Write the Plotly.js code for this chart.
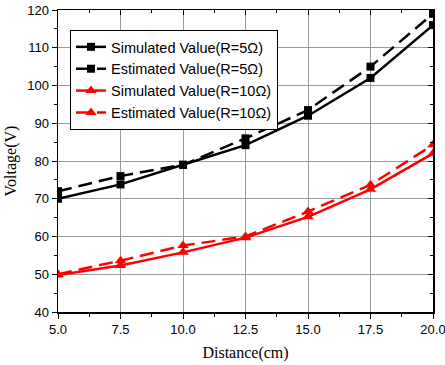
<!DOCTYPE html>
<html><head><meta charset="utf-8">
<script src="https://cdn.plot.ly/plotly-3.0.1.min.js"></script>
<style>html,body{margin:0;padding:0;background:#fff}</style>
</head><body><div id="chart" style="width:445px;height:365px"></div>
<script>
const distance = [5.0, 7.5, 10.0, 12.5, 15.0, 17.5, 20.0];
const simR5 = [70, 73.8, 79, 84.2, 92, 102, 116];
const estR5 = [72, 76, 79, 86, 93.5, 105, 119];
const simR10 = [49.8, 52.3, 55.8, 59.7, 65.2, 72.5, 82];
const estR10 = [50, 53.6, 57.6, 60, 66.6, 73.7, 84.3];
const names = ['Simulated Value(R=5Ω)', 'Estimated Value(R=5Ω)', 'Simulated Value(R=10Ω)', 'Estimated Value(R=10Ω)'];
const xTicks = [5.0, 7.5, 10.0, 12.5, 15.0, 17.5, 20.0];
const xTickText = ['5.0', '7.5', '10.0', '12.5', '15.0', '17.5', '20.0'];

function tr(y, name, color, dash, symbol, size) {
  return {x: distance, y: y, name: name, type: 'scatter', mode: 'lines+markers', line: {color: color, width: 2.5, dash: dash}, marker: {symbol: symbol, size: size, color: color}};
}
const data = [
  tr(simR5, names[0], '#000000', 'solid', 'square', 8),
  tr(estR5, names[1], '#000000', '14px,7px', 'square', 8),
  tr(simR10, names[2], '#ff0000', 'solid', 'triangle-up', 10),
  tr(estR10, names[3], '#ff0000', '14px,7px', 'triangle-up', 10),
  {x: [5, 20], y: [40, 40], xaxis: 'x2', yaxis: 'y2', mode: 'none', showlegend: false, hoverinfo: 'skip', type: 'scatter'}
];
const layout = {
  width: 445, height: 365,
  margin: {l: 58, r: 12, t: 10, b: 53},
  paper_bgcolor: '#fff', plot_bgcolor: '#fff',
  font: {family: 'Liberation Sans, Arial, sans-serif', color: '#000'},
  showlegend: true,
  legend: {x: 0.032, y: 0.934, xanchor: 'left', yanchor: 'top', bgcolor: '#fff', bordercolor: '#000', borderwidth: 1, font: {size: 14.5, family: 'Liberation Sans, Arial, sans-serif'}, tracegroupgap: 0, itemwidth: 30},
  xaxis: {range: [5, 20], tickvals: xTicks, ticktext: xTickText, ticks: 'outside', ticklen: 5, tickwidth: 1, tickcolor: '#000', ticklabeloverflow: 'allow',
    minor: {dtick: 1.25, tick0: 5, ticks: 'outside', ticklen: 3, tickcolor: '#000', showgrid: false},
    showline: true, linecolor: '#000', linewidth: 1.5, showgrid: true, gridcolor: '#999', gridwidth: 1, zeroline: false,
    tickfont: {size: 13}, title: {text: 'Distance(cm)', font: {family: 'Liberation Serif, Times New Roman, serif', size: 16}, standoff: 10}},
  yaxis: {range: [40, 120], dtick: 10, ticks: 'outside', ticklen: 5, tickwidth: 1, tickcolor: '#000',
    minor: {dtick: 5, ticks: 'outside', ticklen: 3, tickcolor: '#000', showgrid: false},
    showline: true, linecolor: '#000', linewidth: 1.5, showgrid: true, gridcolor: '#999', gridwidth: 1, zeroline: false,
    tickfont: {size: 13}, title: {text: 'Voltage(V)', font: {family: 'Liberation Serif, Times New Roman, serif', size: 16}, standoff: 6}},
  xaxis2: {range: [5, 20], overlaying: 'x', side: 'top', tickvals: xTicks, showticklabels: false, ticks: 'inside', ticklen: 5, tickcolor: '#000',
    minor: {dtick: 1.25, tick0: 5, ticks: 'inside', ticklen: 3, tickcolor: '#000'},
    showline: true, linecolor: '#000', linewidth: 1.5, showgrid: false, zeroline: false},
  yaxis2: {range: [40, 120], overlaying: 'y', side: 'right', dtick: 10, showticklabels: false, ticks: 'inside', ticklen: 5, tickcolor: '#000',
    minor: {dtick: 5, ticks: 'inside', ticklen: 3, tickcolor: '#000'},
    showline: true, linecolor: '#000', linewidth: 1.5, showgrid: false, zeroline: false}
};
Plotly.newPlot('chart', data, layout, {displayModeBar: false, staticPlot: true});
</script></body></html>
